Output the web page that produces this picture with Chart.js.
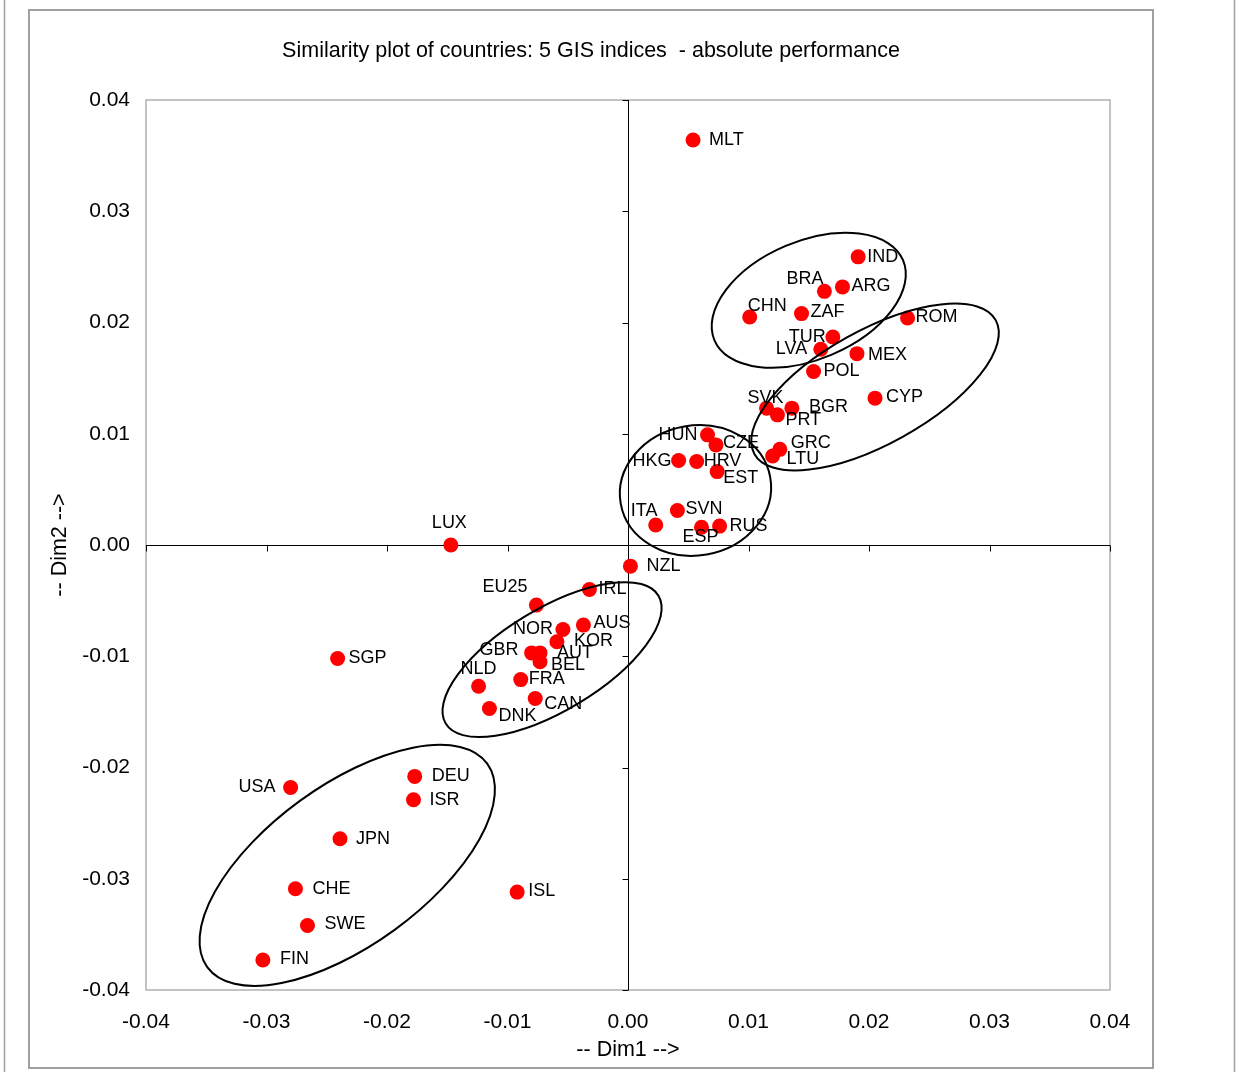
<!DOCTYPE html>
<html>
<head>
<meta charset="utf-8">
<script src="https://cdn.jsdelivr.net/npm/chart.js@4/dist/chart.umd.min.js"></script>
<style>
  html, body { margin: 0; padding: 0; background: #fff; }
  canvas { display: block; }
</style>
</head>
<body>
<canvas id="similarity-plot" width="1236" height="1072"></canvas>
<script>
const countries = ["MLT", "IND", "BRA", "ARG", "CHN", "ZAF", "TUR", "LVA", "ROM", "MEX",
  "POL", "CYP", "SVK", "BGR", "PRT", "GRC", "LTU", "HUN", "CZE", "HKG",
  "HRV", "EST", "ITA", "SVN", "ESP", "RUS", "NZL", "LUX", "EU25", "IRL",
  "NOR", "AUS", "KOR", "GBR", "AUT", "BEL", "NLD", "FRA", "CAN", "DNK",
  "SGP", "USA", "DEU", "ISR", "JPN", "CHE", "SWE", "FIN", "ISL"];

const dim1 = [0.0054, 0.0191, 0.0163, 0.0178, 0.0101, 0.0144, 0.0170, 0.0160, 0.0232, 0.0190,
  0.0154, 0.0205, 0.0115, 0.0136, 0.0124, 0.0126, 0.0120, 0.0066, 0.0073, 0.0042,
  0.0057, 0.0074, 0.0023, 0.0041, 0.0061, 0.0076, 0.0002, -0.0147, -0.0076, -0.0032,
  -0.0054, -0.0037, -0.0059, -0.0080, -0.0073, -0.0073, -0.0124, -0.0089, -0.0077, -0.0115,
  -0.0241, -0.0280, -0.0177, -0.0178, -0.0239, -0.0276, -0.0266, -0.0303, -0.0092];

const dim2 = [0.0364, 0.0259, 0.0228, 0.0232, 0.0205, 0.0208, 0.0187, 0.0176, 0.0204, 0.0172,
  0.0156, 0.0132, 0.0123, 0.0123, 0.0117, 0.0086, 0.0080, 0.0099, 0.0090, 0.0076,
  0.0075, 0.0066, 0.0018, 0.0031, 0.0016, 0.0017, -0.0019, 0.0000, -0.0054, -0.0040,
  -0.0076, -0.0072, -0.0087, -0.0097, -0.0097, -0.0105, -0.0127, -0.0121, -0.0138, -0.0147,
  -0.0102, -0.0218, -0.0208, -0.0229, -0.0264, -0.0309, -0.0342, -0.0373, -0.0312];

const axisTicks = [-0.04, -0.03, -0.02, -0.01, 0, 0.01, 0.02, 0.03, 0.04];

// cluster ellipses: centre in data units, semi-axes in dim1 units, tilt in degrees
const clusterCx = [0.0150, 0.0205, 0.0056, -0.0063, -0.0233];
const clusterCy = [0.0220, 0.0142, 0.0049, -0.0103, -0.0288];
const clusterA = [0.0085, 0.01145, 0.0063, 0.0103, 0.01436];
const clusterB = [0.0049, 0.00473, 0.0054, 0.00423, 0.00664];
const clusterTilt = [23, 29, 10, 31, 36];

// where each label sits relative to its dot (px: left edge of text, vertical middle)
const labelAt = {
  MLT: [16, 0], IND: [9, 0], BRA: [-38, -12], ARG: [9, -1], CHN: [-2, -11],
  ZAF: [9, -2], TUR: [-44, 0], LVA: [-45, 0], ROM: [8, -1], MEX: [11, 1],
  POL: [10, 0], CYP: [11, -1], SVK: [-19, -10], BGR: [17, -1], PRT: [8, 5],
  GRC: [11, -6], LTU: [14, 3], HUN: [-49, 0], CZE: [7, -2], HKG: [-46, 1],
  HRV: [7, -1], EST: [6, 6], ITA: [-25, -14], SVN: [8, -1], ESP: [-19, 10],
  RUS: [10, 0], NZL: [16, 0], LUX: [-19, -22], EU25: [-54, -18], IRL: [9, 0],
  NOR: [-50, -1], AUS: [10, -2], KOR: [17, -1], GBR: [-52, -3], AUT: [17, 0],
  BEL: [11, 3], NLD: [-18, -17], FRA: [8, -1], CAN: [9, 6], DNK: [9, 7],
  SGP: [11, 0], USA: [-52, 0], DEU: [17, 0], ISR: [16, 0], JPN: [16, 0],
  CHE: [17, 0], SWE: [17, -1], FIN: [17, -1], ISL: [11, -1],
};

const FONT = "'Liberation Sans', Arial, sans-serif";

const points = countries.map((c, i) => ({ x: dim1[i], y: dim2[i], name: c }));

const fmtTick = (v) => (Math.abs(v) < 1e-9 ? "0.00" : Number(v).toFixed(2));

// Frame, plot border and the zero axes with their tick marks
const backdrop = {
  id: "backdrop",
  beforeDraw(chart) {
    const ctx = chart.ctx;
    ctx.save();
    ctx.fillStyle = "#fff";
    ctx.fillRect(0, 0, chart.width, chart.height);
    ctx.strokeStyle = "#a0a0a0";
    ctx.lineWidth = 1.5;
    ctx.beginPath();
    ctx.moveTo(4.5, 0);
    ctx.lineTo(4.5, chart.height);
    ctx.moveTo(1234.5, 0);
    ctx.lineTo(1234.5, chart.height);
    ctx.stroke();
    ctx.lineWidth = 2;
    ctx.strokeRect(29, 10, 1124, 1058);
    ctx.restore();
  },
  beforeDatasetsDraw(chart) {
    const { ctx, chartArea: a, scales: { x, y } } = chart;
    ctx.save();
    ctx.strokeStyle = "#b0b0b0";
    ctx.lineWidth = 1.5;
    ctx.strokeRect(a.left, a.top, a.right - a.left, a.bottom - a.top);

    const x0 = Math.round(x.getPixelForValue(0)) + 0.5;
    const y0 = Math.round(y.getPixelForValue(0)) + 0.5;
    ctx.strokeStyle = "#000";
    ctx.lineWidth = 1;
    ctx.beginPath();
    ctx.moveTo(x0, a.top);
    ctx.lineTo(x0, a.bottom);
    ctx.moveTo(a.left, y0);
    ctx.lineTo(a.right, y0);
    axisTicks.forEach((t) => {
      const py = Math.round(y.getPixelForValue(t)) + 0.5;
      ctx.moveTo(x0 - 6, py);
      ctx.lineTo(x0, py);
      const px = Math.round(x.getPixelForValue(t)) + 0.5;
      ctx.moveTo(px, y0);
      ctx.lineTo(px, y0 + 6);
    });
    ctx.stroke();
    ctx.restore();
  },
  afterDatasetsDraw(chart) {
    const { ctx, scales: { x, y } } = chart;
    const pxPerX = Math.abs(x.getPixelForValue(0.01) - x.getPixelForValue(0)) / 0.01;
    ctx.save();

    // cluster ellipses
    ctx.strokeStyle = "#000";
    ctx.lineWidth = 2;
    clusterCx.forEach((cx, i) => {
      ctx.beginPath();
      ctx.ellipse(
        x.getPixelForValue(cx),
        y.getPixelForValue(clusterCy[i]),
        clusterA[i] * pxPerX,
        clusterB[i] * pxPerX,
        (-clusterTilt[i] * Math.PI) / 180,
        0,
        Math.PI * 2
      );
      ctx.stroke();
    });

    // country labels
    ctx.fillStyle = "#000";
    ctx.font = "18px " + FONT;
    ctx.textAlign = "left";
    ctx.textBaseline = "middle";
    chart.getDatasetMeta(0).data.forEach((pt, i) => {
      const off = labelAt[countries[i]] || [10, 0];
      ctx.fillText(countries[i], pt.x + off[0], pt.y + off[1]);
    });
    ctx.restore();
  },
};

const config = {
  type: "scatter",
  data: {
    datasets: [
      {
        data: points,
        backgroundColor: "#ff0000",
        borderWidth: 0,
        pointRadius: 7.5,
        pointHoverRadius: 7.5,
      },
    ],
  },
  options: {
    responsive: false,
    animation: false,
    events: [],
    // left padding is wider than the frame so the title centres where the original has it
    layout: { padding: { top: 10, left: 72, right: 126, bottom: 4 } },
    plugins: {
      legend: { display: false },
      tooltip: { enabled: false },
      title: {
        display: true,
        text: "Similarity plot of countries: 5 GIS indices  - absolute performance",
        color: "#000",
        font: { family: FONT, size: 21.5, weight: "normal" },
        padding: { top: 28, bottom: 36.2 },
      },
    },
    scales: {
      x: {
        type: "linear",
        position: "bottom",
        min: -0.04,
        max: 0.04,
        afterFit(s) {
          s.height = 78;
          s.paddingLeft = 0;
          s.paddingRight = 0;
        },
        afterBuildTicks(s) {
          s.ticks = axisTicks.map((v) => ({ value: v }));
        },
        grid: { display: false, drawTicks: false },
        border: { display: false },
        ticks: {
          color: "#000",
          padding: 20,
          maxRotation: 0,
          font: { family: FONT, size: 21 },
          callback: fmtTick,
        },
        title: {
          display: true,
          text: "-- Dim1 -->",
          color: "#000",
          font: { family: FONT, size: 21.5 },
          padding: { top: 0, bottom: 5 },
        },
      },
      y: {
        type: "linear",
        position: "left",
        min: -0.04,
        max: 0.04,
        afterFit(s) {
          s.width = 74;
          s.paddingTop = 0;
          s.paddingBottom = 0;
        },
        afterBuildTicks(s) {
          s.ticks = axisTicks.map((v) => ({ value: v }));
        },
        grid: { display: false, drawTicks: false },
        border: { display: false },
        ticks: {
          color: "#000",
          padding: 16,
          font: { family: FONT, size: 21 },
          callback: fmtTick,
        },
        title: {
          display: true,
          text: "-- Dim2 -->",
          color: "#000",
          font: { family: FONT, size: 21.5 },
          padding: { top: -24.9, bottom: 0 },
        },
      },
    },
  },
  plugins: [backdrop],
};

const similarityChart = new Chart(
  document.getElementById("similarity-plot").getContext("2d"),
  config
);
</script>
</body>
</html>
